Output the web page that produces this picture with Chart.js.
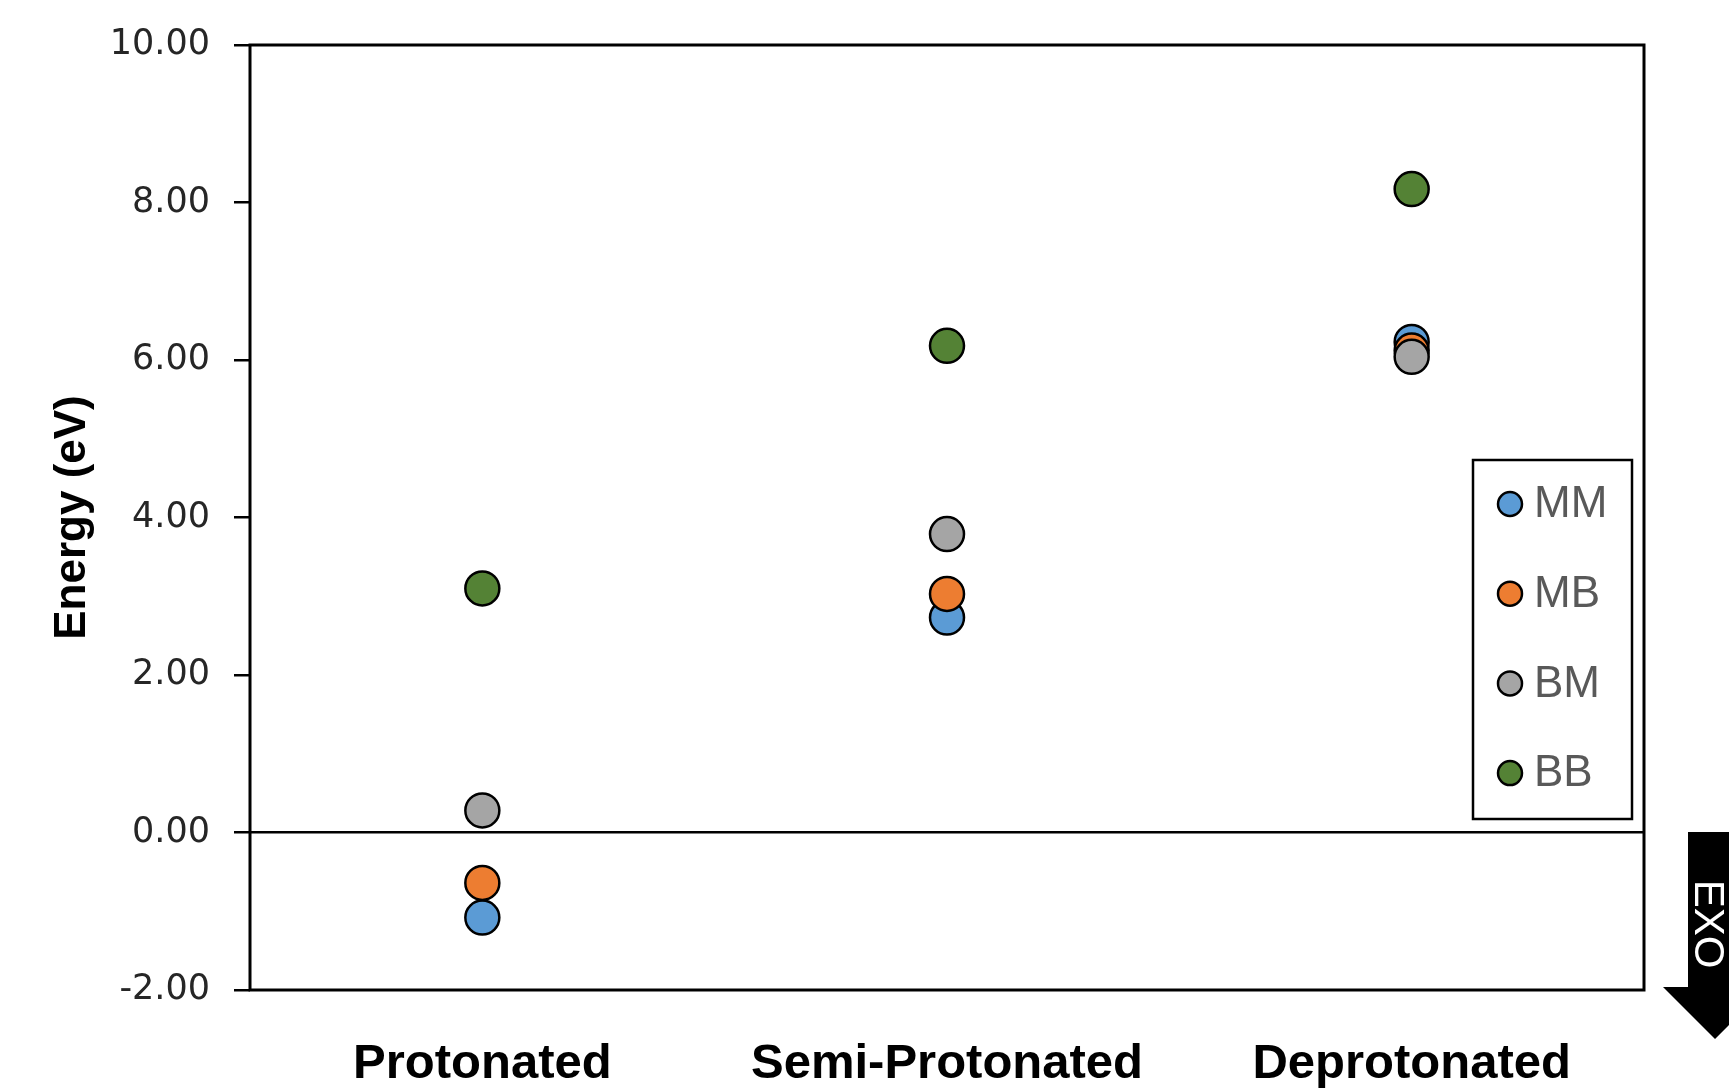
<!DOCTYPE html>
<html>
<head>
<meta charset="utf-8">
<script src="https://cdn.jsdelivr.net/npm/chart.js@4.4.1/dist/chart.umd.min.js"></script>
<style>
  html, body { margin: 0; padding: 0; background: #fff; }
  #wrap { width: 1729px; height: 1090px; }
</style>
</head>
<body>
<div id="wrap"><canvas id="energyChart" width="1729" height="1090"></canvas></div>
<script>
// Data
const categories = ['Protonated', 'Semi-Protonated', 'Deprotonated'];
const mmValues = [-1.08, 2.73, 6.23];
const mbValues = [-0.64, 3.03, 6.12];
const bmValues = [0.28, 3.79, 6.04];
const bbValues = [3.10, 6.18, 8.17];
const seriesNames = ['MM', 'MB', 'BM', 'BB'];
const seriesColors = ['#5b9bd5', '#ed7d31', '#a5a5a5', '#548235'];
const yTicks = [-2, 0, 2, 4, 6, 8, 10];

const SANS = '"Liberation Sans", Arial, sans-serif';

function makeSet(i, values) {
    return {
        label: seriesNames[i],
        data: values,
        showLine: false,
        pointRadius: 17,
        pointBorderWidth: 2.5,
        pointBackgroundColor: seriesColors[i],
        pointBorderColor: '#000',
        pointHoverRadius: 17,
        order: 4 - i   // later series drawn on top
    };
}

// frame around plot area
const framePlugin = {
    id: 'frame',
    afterDraw(chart) {
        const { ctx, chartArea: a } = chart;
        ctx.save();
        ctx.strokeStyle = '#000';
        ctx.lineWidth = 3;
        ctx.strokeRect(a.left, a.top, a.right - a.left, a.bottom - a.top);
        ctx.restore();
    }
};

// boxed legend inside the plot
const boxLegend = {
    id: 'boxLegend',
    afterDraw(chart) {
        const { ctx, chartArea: a } = chart;
        const x0 = a.right - 171, y0 = 460, w = 159, h = 359;
        ctx.save();
        ctx.fillStyle = '#fff';
        ctx.fillRect(x0, y0, w, h);
        ctx.strokeStyle = '#000';
        ctx.lineWidth = 2.5;
        ctx.strokeRect(x0, y0, w, h);
        chart.data.datasets.forEach((ds, i) => {
            const cy = y0 + 44 + i * 89.7;
            ctx.beginPath();
            ctx.arc(x0 + 37, cy, 12, 0, Math.PI * 2);
            ctx.fillStyle = ds.pointBackgroundColor;
            ctx.fill();
            ctx.lineWidth = 2.5;
            ctx.strokeStyle = '#000';
            ctx.stroke();
            ctx.fillStyle = '#595959';
            ctx.font = '44px ' + SANS;
            ctx.textBaseline = 'middle';
            ctx.textAlign = 'left';
            ctx.fillText(ds.label, x0 + 61, cy + 1);
        });
        ctx.restore();
    }
};

// "EXO" arrow at right edge
const exoArrow = {
    id: 'exoArrow',
    afterDraw(chart) {
        const { ctx } = chart;
        const cx = 1715;
        ctx.save();
        ctx.fillStyle = '#000';
        ctx.beginPath();
        ctx.moveTo(cx - 27, 832);
        ctx.lineTo(cx + 27, 832);
        ctx.lineTo(cx + 27, 987);
        ctx.lineTo(cx + 52, 987);
        ctx.lineTo(cx, 1039);
        ctx.lineTo(cx - 52, 987);
        ctx.lineTo(cx - 27, 987);
        ctx.closePath();
        ctx.fill();
        ctx.translate(1695, 924);
        ctx.rotate(Math.PI / 2);
        ctx.fillStyle = '#fff';
        ctx.font = '42px ' + SANS;
        ctx.textAlign = 'center';
        ctx.textBaseline = 'alphabetic';
        ctx.fillText('EXO', 0, 0);
        ctx.restore();
    }
};

const chart = new Chart(document.getElementById('energyChart'), {
    type: 'line',
    data: {
        labels: categories,
        datasets: [
            makeSet(0, mmValues),
            makeSet(1, mbValues),
            makeSet(2, bmValues),
            makeSet(3, bbValues)
        ]
    },
    options: {
        responsive: false,
        animation: false,
        events: [],
        layout: { padding: { top: 44, right: 85, bottom: 0, left: 0 } },
        plugins: {
            legend: { display: false },
            tooltip: { enabled: false }
        },
        scales: {
            x: {
                type: 'category',
                offset: true,
                grid: { display: false, drawTicks: false },
                border: { display: false },
                ticks: {
                    color: '#000',
                    padding: 45,
                    font: { family: SANS, size: 49, weight: 'bold' }
                },
                afterFit(scale) { scale.height = 100; }
            },
            y: {
                min: -2,
                max: 10,
                afterBuildTicks(scale) { scale.ticks = yTicks.map(v => ({ value: v })); },
                grid: {
                    color: c => (c.tick && c.tick.value === 0 ? '#000' : 'rgba(0,0,0,0)'),
                    lineWidth: 2.5,
                    tickColor: '#000',
                    tickLength: 16,
                    drawTicks: true
                },
                border: { display: false },
                ticks: {
                    color: '#262626',
                    padding: 24,
                    font: { family: '"DejaVu Sans", sans-serif', size: 35 },
                    callback: v => Number(v).toFixed(2)
                },
                title: {
                    display: true,
                    text: 'Energy (eV)',
                    color: '#000',
                    font: { family: SANS, size: 44, weight: 'bold' },
                    padding: { top: 46, bottom: 0 }
                },
                afterFit(scale) { scale.width = 250; }
            }
        }
    },
    plugins: [framePlugin, boxLegend, exoArrow]
});
</script>
</body>
</html>
